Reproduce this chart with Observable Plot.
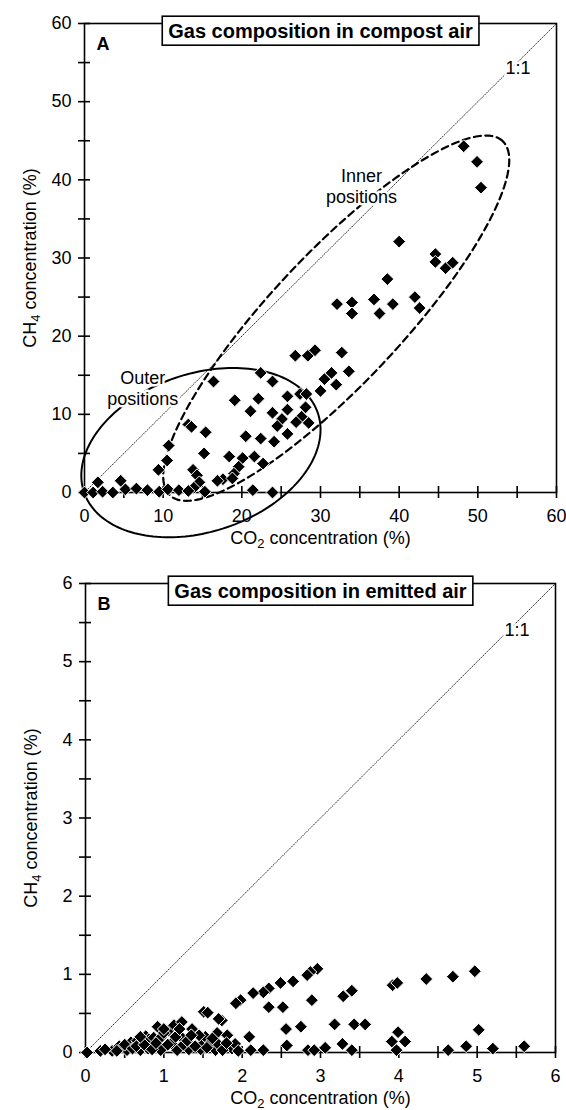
<!DOCTYPE html>
<html><head><meta charset="utf-8">
<script src="https://cdn.jsdelivr.net/npm/d3@7"></script>
<script src="https://cdn.jsdelivr.net/npm/@observablehq/plot@0.6"></script>
<style>
body{margin:0;background:#fff;}
#c{width:566px;}
#c svg{display:block;}
</style>
</head><body><div id="c"></div>
<script>
// ---------- Panel A: compost air ----------
const compostCO2 = [48.2,49.9,50.4,40.0,44.6,44.6,45.9,46.8,38.5,32.1,34.0,34.0,36.8,37.5,39.2,42.0,42.6,
  26.8,28.4,29.3,32.7,30.0,30.5,31.4,32.0,33.6,
  25.8,25.8,25.8,25.1,24.5,24.1,27.4,28.2,28.1,27.6,26.9,28.5,
  16.4,22.4,23.9,19.1,22.1,21.1,23.9,
  13.2,13.6,15.4,20.5,22.4,10.7,15.2,10.5,9.4,13.8,
  18.4,20.1,21.6,22.7,19.6,19.0,17.6,16.9,14.3,14.6,13.9,15.3,18.8,
  21.4,23.9,4.6,1.7,
  0.0,1.1,2.3,3.6,5.2,6.6,8.0,9.5,10.6,12.0,13.2];
const compostCH4 = [44.3,42.3,39.0,32.1,30.5,29.5,28.7,29.4,27.3,24.1,24.3,22.9,24.7,22.9,24.1,25.0,23.6,
  17.5,17.5,18.2,17.9,13.0,14.5,15.3,13.8,15.5,
  12.3,10.6,7.5,9.4,8.5,6.5,12.6,12.6,10.9,9.7,9.0,8.9,
  14.2,15.3,14.2,11.8,12.0,10.4,10.2,
  8.7,8.4,7.7,7.2,6.9,6.0,5.0,4.1,2.9,2.9,
  4.6,4.4,4.6,3.7,3.3,2.4,1.7,1.5,2.2,1.3,0.6,0.1,1.8,
  0.3,0.0,1.5,1.3,
  0.0,0.0,0.1,0.0,0.4,0.5,0.3,0.1,0.4,0.3,0.2];

// ---------- Panel B: emitted air ----------
const emittedCO2 = [2.96,2.87,2.83,2.65,2.49,2.34,2.27,2.14,1.98,1.92,
  3.29,3.40,3.92,3.98,4.35,4.69,4.97,
  2.89,2.34,2.52,2.56,2.75,3.18,3.43,3.57,3.99,3.91,4.08,5.02,
  1.51,1.56,1.74,1.70,
  2.57,2.84,2.27,2.11,2.09,3.28,3.40,3.06,2.92,3.97,4.63,4.86,5.20,5.60,
  0.02,0.19,0.34,0.43,0.53,0.58,0.66,0.70,0.77,0.81,0.87,0.92,0.96,0.96,1.06,1.13,1.17,1.21,1.23,1.32,1.36,1.47,1.51,1.53,1.66,1.68,1.81,1.87,1.91,1.45,1.10,0.50,0.80,1.60,1.25,
  0.25,0.40,0.60,0.65,0.75,0.85,0.90,1.00,1.05,1.15,1.30,1.40,1.55,1.70,1.75,1.80,1.35,1.20,1.00,0.70,1.62,1.95];
const emittedCH4 = [1.07,1.03,0.99,0.91,0.89,0.82,0.77,0.76,0.67,0.63,
  0.72,0.79,0.86,0.89,0.94,0.97,1.04,
  0.67,0.58,0.58,0.30,0.33,0.36,0.36,0.36,0.26,0.14,0.14,0.29,
  0.52,0.51,0.41,0.43,
  0.09,0.03,0.03,0.03,0.20,0.11,0.03,0.06,0.03,0.03,0.03,0.08,0.05,0.08,
  0.00,0.02,0.02,0.08,0.03,0.13,0.15,0.03,0.21,0.17,0.19,0.33,0.03,0.19,0.28,0.35,0.03,0.21,0.39,0.04,0.30,0.04,0.12,0.20,0.03,0.25,0.22,0.05,0.11,0.22,0.12,0.10,0.05,0.13,0.10,
  0.04,0.02,0.05,0.08,0.10,0.04,0.12,0.25,0.10,0.20,0.15,0.08,0.06,0.10,0.03,0.12,0.22,0.30,0.30,0.20,0.18,0.02];

// ---------- ticks ----------
const ticksA = [0,5,10,15,20,25,30,35,40,45,50,55,60];
const labelsA = [0,10,20,30,40,50,60];
const ticksB = [0,0.5,1,1.5,2,2.5,3,3.5,4,4.5,5,5.5,6];
const labelsB = [0,1,2,3,4,5,6];

// ---------- annotations ----------
const groupNames = ["Outer\npositions", "Inner\npositions"];
const groupLabelX = [7.4, 35.2];
const groupLabelY = [13.4, 39.2];
const oneToOneA = [55.1, 54.3];
const oneToOneB = [5.51, 5.40];
// ellipses: center, semi-axes and rotation (degrees) in data units
const outerEllipse = {cx: 14.8, cy: 5.1, a: 15.7, b: 10.1, angle: 19};
const innerEllipse = {cx: 32.0, cy: 22.3, a: 31.0, b: 8.3, angle: 47};

function ellipsePoints(e) {
  const th = e.angle * Math.PI / 180, out = [];
  for (let k = 0; k <= 180; k++) {
    const t = k / 180 * 2 * Math.PI;
    out.push([e.cx + e.a * Math.cos(th) * Math.cos(t) - e.b * Math.sin(th) * Math.sin(t),
              e.cy + e.a * Math.sin(th) * Math.cos(t) + e.b * Math.cos(th) * Math.sin(t)]);
  }
  return out;
}

const FONT = "'Liberation Sans', Arial, Helvetica, sans-serif";

function panel({co2, ch4, max, ticks, labels, height, mt, mb, ml, mr, title, letter, oneToOne, extra}) {
  const W = 566;
  const iw = W - ml - mr, ih = height - mt - mb;
  const pts = co2.map((x, i) => ({x, y: ch4[i]}));
  const fmt = d => labels.includes(d) ? String(d) : "";
  const halo = {fill: "black", stroke: "white", strokeWidth: 5};
  const svg = Plot.plot({
    width: W, height, marginTop: mt, marginBottom: mb, marginLeft: ml, marginRight: mr,
    x: {domain: [0, max]}, y: {domain: [0, max]},
    style: {fontFamily: FONT, fontSize: "18px", color: "black", background: "white", overflow: "visible"},
    marks: [
      Plot.line([[0, 0], [max, max]], {stroke: "#333", strokeWidth: 1, strokeDasharray: "1,1.6"}),
      ...extra.lines,
      Plot.frame({stroke: "black", strokeWidth: 1.6}),
      Plot.axisX({ticks, tickFormat: fmt, tickSize: 6, tickPadding: 11, strokeWidth: 1.6, label: null, fontSize: 18}),
      Plot.axisY({ticks, tickFormat: fmt, tickSize: 6, tickPadding: 7, strokeWidth: 1.6, label: null, fontSize: 18}),
      Plot.ruleX(ticks, {x: d => d, insetTop: ih - 6, strokeWidth: 1.6}),
      Plot.ruleY(ticks, {y: d => d, insetRight: iw - 6, strokeWidth: 1.6}),
      Plot.dot(pts, {x: "x", y: "y", symbol: "diamond2", r: 5.8, fill: "black", stroke: "white", strokeWidth: 1}),
      ...extra.texts.map(t => Plot.text(t.data, {...t.options, ...halo, fontSize: 18, lineHeight: 1.15})),
      Plot.text(["1:1"], {x: [oneToOne[0]], y: [oneToOne[1]], ...halo, fontSize: 18}),
      Plot.text(["CO2 concentration (%)"], {frameAnchor: "bottom", textAnchor: "middle", dy: 51, fontSize: 18}),
      Plot.text(["CH4 concentration (%)"], {frameAnchor: "left", textAnchor: "middle", dx: -54, rotate: -90, fontSize: 18}),
      Plot.text([letter], {frameAnchor: "top-left", dx: 12, dy: 14, lineAnchor: "top", textAnchor: "start", fontWeight: "bold", fontSize: 18}),
      Plot.text([title], {frameAnchor: "top", textAnchor: "middle", fontWeight: "bold", fontSize: 20})
    ]
  });
  document.getElementById("c").appendChild(svg);
  const ns = "http://www.w3.org/2000/svg";
  svg.querySelectorAll("text").forEach(el => {
    const s = el.textContent;
    const m = s.match(/^(CO|CH)(\d)( concentration \(%\))$/);
    if (m) {
      el.textContent = "";
      const a = document.createElementNS(ns, "tspan"); a.textContent = m[1];
      const b = document.createElementNS(ns, "tspan"); b.textContent = m[2];
      b.setAttribute("font-size", "13"); b.setAttribute("dy", "4");
      const c = document.createElementNS(ns, "tspan"); c.textContent = m[3]; c.setAttribute("dy", "-4");
      el.append(a, b, c);
    }
    if (s === title) {
      const bb = el.getBBox();
      const r = document.createElementNS(ns, "rect");
      const tf = el.getAttribute("transform");
      if (tf) r.setAttribute("transform", tf);
      r.setAttribute("x", bb.x - 6);
      r.setAttribute("width", bb.width + 12);
      r.setAttribute("y", bb.y + bb.height / 2 - 14.5);
      r.setAttribute("height", 29);
      r.setAttribute("fill", "white");
      r.setAttribute("stroke", "black");
      r.setAttribute("stroke-width", 1.6);
      el.parentNode.insertBefore(r, el);
    }
  });
}

panel({
  co2: compostCO2, ch4: compostCH4, max: 60, ticks: ticksA, labels: labelsA,
  height: 555, mt: 23, mb: 63, ml: 84, mr: 10,
  title: "Gas composition in compost air", letter: "A", oneToOne: oneToOneA,
  extra: {
    lines: [
      Plot.line(ellipsePoints(outerEllipse), {stroke: "black", strokeWidth: 2}),
      Plot.line(ellipsePoints(innerEllipse), {stroke: "black", strokeWidth: 2.2, strokeDasharray: "7,4.5"})
    ],
    texts: [{data: groupNames, options: {x: groupLabelX, y: groupLabelY, text: groupNames}}]
  }
});

panel({
  co2: emittedCO2, ch4: emittedCH4, max: 6, ticks: ticksB, labels: labelsB,
  height: 555, mt: 28, mb: 58, ml: 85, mr: 11,
  title: "Gas composition in emitted air", letter: "B", oneToOne: oneToOneB,
  extra: {lines: [], texts: []}
});
</script>
</body></html>
